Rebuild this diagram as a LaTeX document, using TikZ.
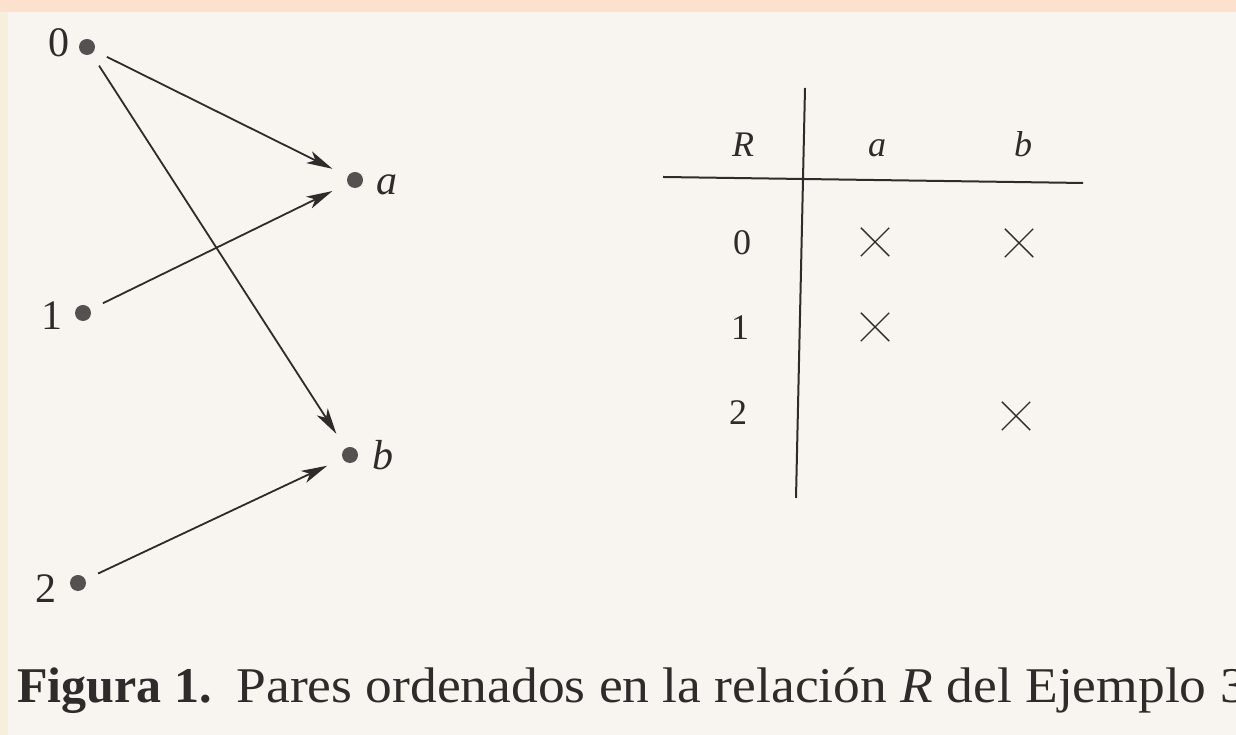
\documentclass[tikz,border=0pt]{standalone}
\usepackage{fontspec}
\setmainfont{Liberation Serif}
\newfontfamily\capfont[FakeStretch=1.07]{Liberation Serif}
\usetikzlibrary{arrows.meta}
\definecolor{ink}{HTML}{2E2C2A}
\definecolor{dotgray}{HTML}{555150}
\definecolor{paper}{HTML}{F8F4EF}
\definecolor{rim}{HTML}{FCE2CC}
\definecolor{rimside}{HTML}{F5EFDC}

\begin{document}
\begin{tikzpicture}[
  x=1pt, y=1pt,
  >={Stealth[length=26pt, width=13pt, inset=7pt]},
  dot/.style={circle, fill=dotgray, inner sep=0pt, minimum size=16pt},
  glabel/.style={font=\fontsize{42}{42}\selectfont, text=ink, anchor=base, inner sep=0pt},
  tlabel/.style={font=\fontsize{36}{36}\selectfont, text=ink, anchor=base, inner sep=0pt},
  pair/.style={->, draw=ink, line width=1.8pt, shorten <=14pt, shorten >=17pt},
  rule/.style={draw=ink, line width=2pt},
  cross/.style={draw=ink, line width=1.4pt}
]
\useasboundingbox (0,0) rectangle (1236,735);

% ---------------------------------------------------------------------------
% paper
% ---------------------------------------------------------------------------
\fill[rim] (0,0) rectangle (1236,735);
\fill[rimside] (0,0) rectangle (8,723);
\fill[paper] (8,0) rectangle (1236,723);

% ---------------------------------------------------------------------------
% arrow diagram of R
% ---------------------------------------------------------------------------
\node[dot] (n0) at (87,688) {};
\node[dot] (n1) at (83,422) {};
\node[dot] (n2) at (78,152) {};
\node[dot] (na) at (355,555) {};
\node[dot] (nb) at (350,280) {};

\node[glabel] (l0) at (59,678) {0};
\node[glabel] (l1) at (52,405) {1};
\node[glabel] (l2) at (46,132) {2};
\node[glabel] (la) at (387,540) {\textit{a}};
\node[glabel] (lb) at (383,265) {\textit{b}};

\draw[pair] (n0) -- (na);
\draw[pair] (n0) -- (nb);
\draw[pair] (n1) -- (na);
\draw[pair] (n2) -- (nb);

% ---------------------------------------------------------------------------
% table of R
% ---------------------------------------------------------------------------
\coordinate (vtop) at (805,647);
\coordinate (vbot) at (796,237);
\coordinate (hleft) at (663,558);
\coordinate (hright) at (1083,552);
\draw[rule] (vtop) -- (vbot);
\draw[rule] (hleft) -- (hright);

\node[tlabel] (hR) at (743,578) {\textit{R}};
\node[tlabel] (ha) at (877,578) {\textit{a}};
\node[tlabel] (hb) at (1023,578) {\textit{b}};
\node[tlabel] (r0) at (742,480) {0};
\node[tlabel] (r1) at (740,395) {1};
\node[tlabel] (r2) at (738,310) {2};

\node[inner sep=0pt, minimum size=28pt] (x0a) at (875,493) {};
\node[inner sep=0pt, minimum size=28pt] (x0b) at (1019,492) {};
\node[inner sep=0pt, minimum size=28pt] (x1a) at (875,408) {};
\node[inner sep=0pt, minimum size=28pt] (x2b) at (1016,319) {};
\draw[cross] (x0a.north west) -- (x0a.south east) (x0a.south west) -- (x0a.north east);
\draw[cross] (x0b.north west) -- (x0b.south east) (x0b.south west) -- (x0b.north east);
\draw[cross] (x1a.north west) -- (x1a.south east) (x1a.south west) -- (x1a.north east);
\draw[cross] (x2b.north west) -- (x2b.south east) (x2b.south west) -- (x2b.north east);

% ---------------------------------------------------------------------------
% caption
% ---------------------------------------------------------------------------
\node[font=\fontsize{50}{50}\selectfont, text=ink, anchor=base west, inner sep=0pt]
  (caption) at (17,32) {\textbf{Figura 1.}\ \ {\capfont Pares ordenados en la relación \textit{R} del Ejemplo 3}};

\end{tikzpicture}
\end{document}
